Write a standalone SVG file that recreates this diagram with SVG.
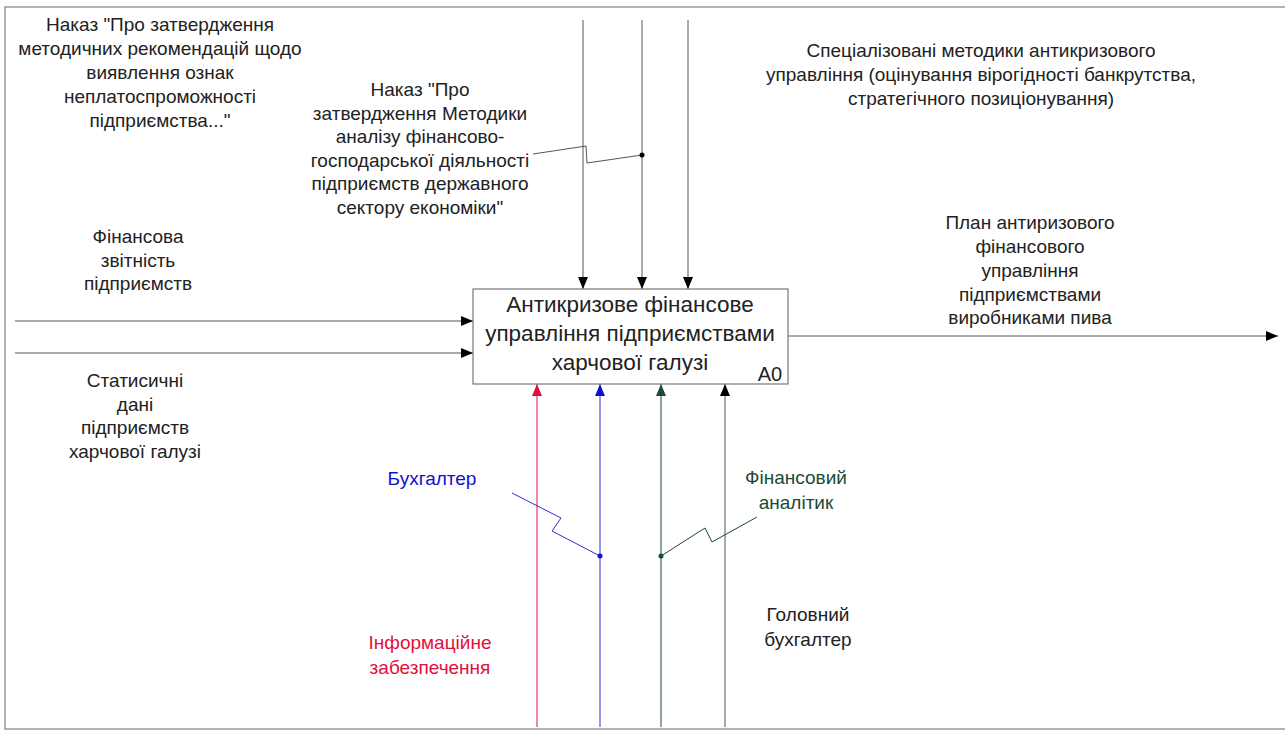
<svg xmlns="http://www.w3.org/2000/svg" width="1285" height="736" viewBox="0 0 1285 736">
<defs>
<marker id="ah" markerWidth="12" markerHeight="10" refX="12" refY="5" orient="auto" markerUnits="userSpaceOnUse"><path d="M0,0 L12,5 L0,10 Z" fill="#000"/></marker>
<marker id="ahr" markerWidth="12" markerHeight="10" refX="12" refY="5" orient="auto" markerUnits="userSpaceOnUse"><path d="M0,0 L12,5 L0,10 Z" fill="#e0103c"/></marker>
<marker id="ahb" markerWidth="12" markerHeight="10" refX="12" refY="5" orient="auto" markerUnits="userSpaceOnUse"><path d="M0,0 L12,5 L0,10 Z" fill="#1010d0"/></marker>
<marker id="ahg" markerWidth="12" markerHeight="10" refX="12" refY="5" orient="auto" markerUnits="userSpaceOnUse"><path d="M0,0 L12,5 L0,10 Z" fill="#1a4a3a"/></marker>
<style>
text{font-family:"Liberation Sans",Arial,sans-serif;font-size:19px;fill:#222;text-anchor:middle}
.ln{fill:none;stroke:#555;stroke-width:1}
.red{stroke:#e0103c}
.blue{stroke:#3030d0}
.green{stroke:#1a4a3a}
.frame{fill:none;stroke:#999;stroke-width:1.5}
.box{fill:#fff;stroke:#777;stroke-width:1.2}
</style>
</defs>
<rect width="1285" height="736" fill="#fff"/>
<g id="frame">
<path class="frame" d="M1285,7 H5 V729 H1285"/>
</g>
<g id="connectors">
<path class="ln" d="M583,20 V289" marker-end="url(#ah)"/>
<path class="ln" d="M642,20 V289" marker-end="url(#ah)"/>
<path class="ln" d="M688,20 V289" marker-end="url(#ah)"/>
<path class="ln" d="M15,321 H473" marker-end="url(#ah)"/>
<path class="ln" d="M15,353 H473" marker-end="url(#ah)"/>
<path class="ln" d="M788,336 H1278" marker-end="url(#ah)"/>
<path class="ln red" d="M537,727 V384" marker-end="url(#ahr)"/>
<path class="ln blue" d="M600,727 V384" marker-end="url(#ahb)"/>
<path class="ln green" d="M661,727 V384" marker-end="url(#ahg)"/>
<path class="ln" d="M725,727 V384" marker-end="url(#ah)"/>
<polyline class="ln" points="533,154 586,146 587,163 642,155"/>
<circle cx="642" cy="155" r="2.5" fill="#000"/>
<polyline class="ln blue" points="512,493 561,518 552,531 600,556"/>
<circle cx="600" cy="556" r="2.5" fill="#1010d0"/>
<polyline class="ln green" points="661,556 705,528 712,542 757,517"/>
<circle cx="661" cy="556" r="2.5" fill="#1a4a3a"/>
</g>
<g id="A0">
<rect class="box" x="473" y="289" width="315" height="95"/>
<text style="font-size:22.5px"><tspan x="630" y="312">Антикризове фінансове</tspan><tspan x="630" y="341">управління підприємствами</tspan><tspan x="630" y="370">харчової галузі</tspan></text>
<text x="770" y="381" style="font-size:20px">А0</text>
</g>
<g id="label-nakaz1">
<text><tspan x="160" y="31">Наказ "Про затвердження</tspan><tspan x="160" y="55">методичних рекомендацій щодо</tspan><tspan x="160" y="79">виявлення ознак</tspan><tspan x="160" y="103">неплатоспроможності</tspan><tspan x="160" y="127">підприємства..."</tspan></text>
</g>
<g id="label-nakaz2">
<text><tspan x="420" y="96">Наказ "Про</tspan><tspan x="420" y="119.5">затвердження Методики</tspan><tspan x="420" y="143">аналізу фінансово-</tspan><tspan x="420" y="166.5">господарської діяльності</tspan><tspan x="420" y="190">підприємств державного</tspan><tspan x="420" y="213.5">сектору економіки"</tspan></text>
</g>
<g id="label-metodyky">
<text><tspan x="981" y="57">Спеціалізовані методики антикризового</tspan><tspan x="981" y="81">управління (оцінування вірогідності банкрутства,</tspan><tspan x="981" y="105">стратегічного позиціонування)</tspan></text>
</g>
<g id="label-plan">
<text><tspan x="1030" y="229">План антиризового</tspan><tspan x="1030" y="253">фінансового</tspan><tspan x="1030" y="277">управління</tspan><tspan x="1030" y="301">підприємствами</tspan><tspan x="1030" y="324">виробниками пива</tspan></text>
</g>
<g id="label-zvitnist">
<text><tspan x="138" y="243">Фінансова</tspan><tspan x="138" y="267">звітність</tspan><tspan x="138" y="290">підприємств</tspan></text>
</g>
<g id="label-statystyka">
<text><tspan x="135" y="387">Статисичні</tspan><tspan x="135" y="411">дані</tspan><tspan x="135" y="434">підприємств</tspan><tspan x="135" y="458">харчової галузі</tspan></text>
</g>
<g id="label-buhgalter">
<text x="432" y="485" style="fill:#1010d0">Бухгалтер</text>
</g>
<g id="label-analityk">
<text style="fill:#1a4a3a"><tspan x="796" y="484">Фінансовий</tspan><tspan x="796" y="509">аналітик</tspan></text>
</g>
<g id="label-golovnyi">
<text><tspan x="808" y="621">Головний</tspan><tspan x="808" y="646">бухгалтер</tspan></text>
</g>
<g id="label-info">
<text style="fill:#e0103c"><tspan x="430" y="649">Інформаційне</tspan><tspan x="430" y="674">забезпечення</tspan></text>
</g>
</svg>
